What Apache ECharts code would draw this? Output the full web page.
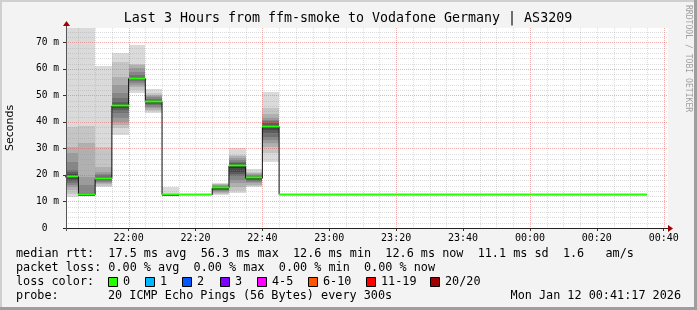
<!DOCTYPE html>
<html><head><meta charset="utf-8">
<script src="https://cdn.jsdelivr.net/npm/echarts@6/dist/echarts.min.js"></script>
<style>html,body{margin:0;padding:0;background:#f3f3f3}#c{width:697px;height:310px}</style>
</head><body><div id="c"></div>
<script>
// ---- data ----
const intervalEnds = ['21:45','21:50','21:55','22:00','22:05','22:10','22:15','22:20','22:25','22:30','22:35','22:40','22:45',
  '22:50','22:55','23:00','23:05','23:10','23:15','23:20','23:25','23:30','23:35','23:40','23:45','23:50','23:55',
  '00:00','00:05','00:10','00:15','00:20','00:25','00:30','00:35'];
const medianRtt = [19.3, 12.6, 18.6, 46.0, 56.3, 47.6, 12.6, 12.6, 12.6, 15.1, 23.4, 18.8, 38.2,
  12.6, 12.6, 12.6, 12.6, 12.6, 12.6, 12.6, 12.6, 12.6, 12.6, 12.6, 12.6, 12.6, 12.6,
  12.6, 12.6, 12.6, 12.6, 12.6, 12.6, 12.6, 12.6];
// sorted ping values (ms) per interval, min/max dropped; null = no visible smoke
const smokePings = [
  [11.5, 13.0, 14.2, 15.3, 16.2, 17.0, 17.8, 18.5, 19.0, 19.6, 20.3, 21.0, 21.9, 25.0, 28.1, 30.6, 38.2, 90.0],
  [12.3, 12.4, 12.4, 12.5, 12.5, 12.5, 12.6, 12.6, 12.6, 12.6, 12.7, 12.9, 13.3, 16.2, 19.3, 31.9, 38.4, 90.0],
  [15.5, 16.0, 16.4, 17.0, 17.5, 17.9, 18.2, 18.4, 18.5, 18.7, 19.0, 19.4, 19.8, 20.4, 21.2, 23.1, 30.6, 61.1],
  [35.1, 37.6, 39.0, 40.1, 41.5, 43.2, 44.5, 45.3, 45.8, 46.2, 46.8, 47.6, 49.0, 51.0, 53.9, 57.0, 62.7, 65.8],
  [50.8, 52.0, 53.0, 53.9, 54.8, 55.4, 55.8, 56.0, 56.2, 56.4, 56.7, 57.0, 57.8, 58.9, 60.2, 61.4, 62.0, 69.0],
  [43.2, 44.0, 44.5, 45.2, 45.8, 46.3, 46.8, 47.1, 47.4, 47.7, 48.0, 48.3, 48.7, 49.2, 49.7, 50.1, 50.8, 52.4],
  [12.5, 12.5, 12.5, 12.6, 12.6, 12.6, 12.6, 12.6, 12.6, 12.6, 12.6, 12.6, 12.7, 12.7, 12.7, 12.8, 12.9, 15.6],
  null, null,
  [12.5, 12.8, 13.1, 13.5, 13.9, 14.2, 14.5, 14.8, 15.0, 15.2, 15.4, 15.6, 15.8, 16.0, 16.2, 16.4, 16.6, 17.1],
  [13.1, 14.0, 15.6, 16.8, 18.1, 19.5, 20.5, 21.2, 22.5, 23.6, 24.0, 24.5, 25.0, 25.6, 26.3, 27.0, 27.5, 30.0],
  [15.4, 15.8, 16.2, 16.8, 17.3, 17.7, 18.1, 18.4, 18.6, 18.9, 19.1, 19.4, 19.7, 20.0, 20.3, 20.6, 21.2, 22.2],
  [25.0, 28.1, 30.6, 32.0, 33.2, 34.4, 35.7, 36.8, 37.7, 38.5, 39.0, 39.6, 40.2, 40.8, 41.3, 43.0, 45.1, 51.4],
  null, null, null, null, null, null, null, null, null, null, null, null, null, null,
  null, null, null, null, null, null, null, null
];
const xTickLabels = ['22:00','22:20','22:40','23:00','23:20','23:40','00:00','00:20','00:40'];
const yTickValues = [0, 10, 20, 30, 40, 50, 60, 70];
const startTime = '21:41:17', endTime = '00:41:17';
const yMax = 75.4;
const stepMinutes = 5;
const lossLabels = ['0','1','2','3','4-5','6-10','11-19','20/20'];
const lossColors = ['#26ff00','#00b8ff','#0059ff','#7e00ff','#ff00ff','#ff5500','#ff0000','#a10000'];
const legendLines = [
  'median rtt:  17.5 ms avg  56.3 ms max  12.6 ms min  12.6 ms now  11.1 ms sd  1.6   am/s',
  'packet loss: 0.00 % avg  0.00 % max  0.00 % min  0.00 % now'
];
const probeText = '20 ICMP Echo Pings (56 Bytes) every 300s';
const dateText = 'Mon Jan 12 00:41:17 2026';
const titleText = 'Last 3 Hours from ffm-smoke to Vodafone Germany | AS3209';

// ---- helpers ----
function toMin(s){ const p = s.split(':').map(Number); let h = p[0]; if (h < 12) h += 24; return h*60 + p[1] + (p[2]||0)/60 - 21*60; }
function fmtMin(m){ let h = Math.floor(m/60) + 21; const mm = Math.round(m - (h-21)*60); h = h % 24; return String(h).padStart(2,'0') + ':' + String(mm).padStart(2,'0'); }
const X_MIN = toMin(startTime), X_MAX = toMin(endTime);
const ends = intervalEnds.map(toMin);
const starts = ends.map(e => e - stepMinutes);
const xTickVals = xTickLabels.map(toMin);

const MONO = '"DejaVu Sans Mono", monospace';
const LEG_FONT = '11.8px ' + MONO;

const smokeData = ends.map((e, i) => [starts[i], e, i, medianRtt[i]]);
const stepData = starts.map((s, i) => [s, medianRtt[i]]).concat([[ends[ends.length-1], medianRtt[medianRtt.length-1]]]);

// guide grid lines (positions)
const gridData = [];
for (let m = 45; m <= 220; m += 5) gridData.push([m, 0, ((m - 60) % 40 === 0) ? 1 : 0]);
for (let v = 2; v < yMax; v += 2) gridData.push([X_MIN, v, (v % 10 === 0) ? 3 : 2]);

function clip(rect, cs){ return echarts.graphic.clipRectByRect(rect, {x: cs.x, y: cs.y, width: cs.width, height: cs.height}); }

function renderSmoke(params, api){
  const i = api.value(2);
  const p = smokePings[i];
  if (!p) return null;
  const cs = params.coordSys;
  const x0 = Math.round(api.coord([api.value(0), 0])[0]);
  const x1 = Math.round(api.coord([api.value(1), 0])[0]);
  const children = [];
  for (let k = 0; k < 9; k++){
    const lo = p[k], hi = p[17-k];
    const y0 = Math.round(api.coord([0, hi])[1]);
    const y1 = Math.round(api.coord([0, lo])[1]);
    const g = Math.floor(190/9*(8-k)) + 50;
    const r = clip({x: x0, y: y0, width: x1 - x0, height: Math.max(1, y1 - y0)}, cs);
    if (r) children.push({type: 'rect', shape: r, style: {fill: 'rgb(' + g + ',' + g + ',' + g + ')'}});
  }
  return {type: 'group', children};
}
function renderMedian(params, api){
  const cs = params.coordSys;
  const x0 = Math.round(api.coord([api.value(0), 0])[0]);
  const x1 = Math.round(api.coord([api.value(1), 0])[0]);
  const y = api.coord([0, api.value(3)])[1];
  const r = clip({x: x0, y: Math.round(y) - 1.5, width: x1 - x0, height: 2}, cs);
  if (!r) return null;
  return {type: 'rect', shape: r, style: {fill: lossColors[0]}};
}
const MINOR = 'rgba(150,150,150,0.32)';
const MAJOR = 'rgba(235,90,90,0.5)';
function renderGrid(params, api){
  const cs = params.coordSys;
  const kind = api.value(2);
  const dash = [1, 1];
  if (kind < 2){
    const x = Math.round(api.coord([api.value(0), 0])[0]) + 0.5;
    return {type: 'line', shape: {x1: x, y1: cs.y, x2: x, y2: cs.y + cs.height},
      style: {stroke: kind ? MAJOR : MINOR, lineWidth: 1, lineDash: dash}};
  } else {
    const y = Math.round(api.coord([0, api.value(1)])[1]) + 0.5;
    return {type: 'line', shape: {x1: cs.x, y1: y, x2: cs.x + cs.width, y2: y},
      style: {stroke: kind === 3 ? MAJOR : MINOR, lineWidth: 1, lineDash: dash}};
  }
}

// ---- graphics: frame, texts, legend ----
const graphics = [
  {type: 'rect', shape: {x: 0, y: 0, width: 697, height: 2}, style: {fill: '#cfcfcf'}, silent: true},
  {type: 'rect', shape: {x: 0, y: 0, width: 2, height: 310}, style: {fill: '#cfcfcf'}, silent: true},
  {type: 'rect', shape: {x: 694, y: 0, width: 3, height: 310}, style: {fill: '#9e9e9e'}, silent: true},
  {type: 'rect', shape: {x: 0, y: 307, width: 697, height: 3}, style: {fill: '#9e9e9e'}, silent: true},
  // axes
  {type: 'line', shape: {x1: 63, y1: 228.5, x2: 669, y2: 228.5}, style: {stroke: '#222', lineWidth: 1}, z: 10},
  {type: 'line', shape: {x1: 66.5, y1: 231, x2: 66.5, y2: 25}, style: {stroke: '#555', lineWidth: 1}, z: 10},
  {type: 'polygon', shape: {points: [[668, 225], [673, 228.5], [668, 232]]}, style: {fill: '#a00000'}, z: 10},
  {type: 'polygon', shape: {points: [[63, 26], [66.5, 21], [70, 26]]}, style: {fill: '#a00000'}, z: 10},
  {type: 'text', x: 348, y: 19, style: {text: titleText, font: '13.3px ' + MONO, fill: '#000', align: 'center', verticalAlign: 'middle'}},
  {type: 'text', x: 10, y: 128, rotation: Math.PI/2, style: {text: 'Seconds', font: '11px "DejaVu Sans", sans-serif', fill: '#000', align: 'center', verticalAlign: 'middle'}},
  {type: 'text', x: 688, y: 5, rotation: -Math.PI/2, style: {text: 'RRDTOOL / TOBI OETIKER', font: '8.1px ' + MONO, fill: '#a0a0a0', align: 'left', verticalAlign: 'middle'}},
  {type: 'text', x: 16, y: 254, style: {text: legendLines[0], font: LEG_FONT, fill: '#000', verticalAlign: 'middle'}},
  {type: 'text', x: 16, y: 268, style: {text: legendLines[1], font: LEG_FONT, fill: '#000', verticalAlign: 'middle'}},
  {type: 'text', x: 16, y: 282, style: {text: 'loss color:', font: LEG_FONT, fill: '#000', verticalAlign: 'middle'}},
  {type: 'text', x: 16, y: 296, style: {text: 'probe:', font: LEG_FONT, fill: '#000', verticalAlign: 'middle'}},
  {type: 'text', x: 108, y: 296, style: {text: probeText, font: LEG_FONT, fill: '#000', verticalAlign: 'middle'}},
  {type: 'text', x: 681, y: 296, style: {text: dateText, font: LEG_FONT, fill: '#000', align: 'right', verticalAlign: 'middle'}}
];
const boxX = [108, 145, 182, 219.5, 257, 307.5, 365.5, 430];
lossLabels.forEach((lab, i) => {
  graphics.push({type: 'rect', shape: {x: Math.round(boxX[i]) + 0.5, y: 277.5, width: 9, height: 9}, style: {fill: lossColors[i], stroke: '#000', lineWidth: 1}});
  graphics.push({type: 'text', x: Math.round(boxX[i]) + 15, y: 282, style: {text: lab, font: LEG_FONT, fill: '#000', verticalAlign: 'middle'}});
});

const chart = echarts.init(document.getElementById('c'), null, {renderer: 'canvas'});
chart.setOption({
  animation: false,
  backgroundColor: '#f3f3f3',
  grid: {left: 66, top: 28, width: 602, height: 200, show: true, backgroundColor: '#ffffff', borderWidth: 0},
  xAxis: {
    type: 'value', min: X_MIN, max: X_MAX,
    axisLine: {show: false}, splitLine: {show: false},
    axisTick: {show: true, customValues: xTickVals, length: 3, lineStyle: {color: '#333'}},
    axisLabel: {customValues: xTickVals, formatter: v => fmtMin(v), margin: 5, fontFamily: MONO, fontSize: 10, color: '#000'}
  },
  yAxis: {
    type: 'value', min: 0, max: yMax, interval: 10,
    axisLine: {show: false}, splitLine: {show: false},
    axisTick: {show: true, customValues: yTickValues, length: 3, lineStyle: {color: '#333'}},
    axisLabel: {customValues: yTickValues, formatter: v => (v === 0 ? '0  ' : v + ' m'), margin: 7, fontFamily: MONO, fontSize: 9.6, color: '#000'}
  },
  series: [
    {type: 'custom', name: 'smoke', z: 1, renderItem: renderSmoke, data: smokeData, encode: {x: [0, 1], y: 3}, silent: true},
    {type: 'custom', name: 'grid', z: 2, renderItem: renderGrid, data: gridData, encode: {x: 0, y: 1}, silent: true},
    {type: 'line', name: 'median step', z: 3, step: 'end', data: stepData, symbol: 'none', lineStyle: {color: '#111', width: 1}, silent: true},
    {type: 'custom', name: 'median', z: 4, renderItem: renderMedian, data: smokeData, encode: {x: [0, 1], y: 3}, silent: true}
  ],
  graphic: graphics
});
</script></body></html>
